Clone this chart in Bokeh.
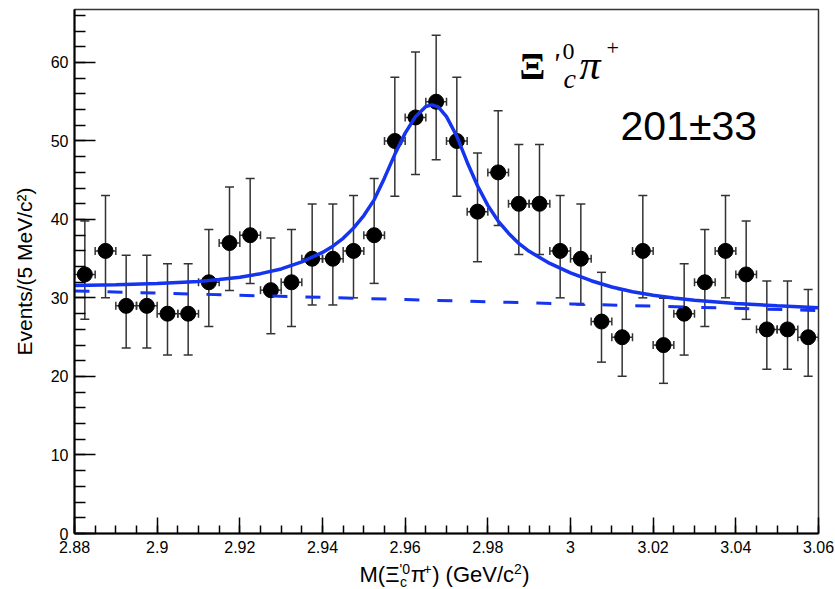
from bokeh.plotting import figure
from bokeh.models import (ColumnDataSource, Whisker, TeeHead, Label, FixedTicker,
                          NumeralTickFormatter, Range1d)
from bokeh.layouts import column
from bokeh.embed import file_html
from bokeh.resources import INLINE

# ---------------- data ----------------
bin_centers = [2.8825, 2.8875, 2.8925, 2.8975, 2.9025, 2.9075, 2.9125, 2.9175, 2.9225,
               2.9275, 2.9325, 2.9375, 2.9425, 2.9475, 2.9525, 2.9575, 2.9625, 2.9675,
               2.9725, 2.9775, 2.9825, 2.9875, 2.9925, 2.9975, 3.0025, 3.0075, 3.0125,
               3.0175, 3.0225, 3.0275, 3.0325, 3.0375, 3.0425, 3.0475, 3.0525, 3.0575]
counts = [33, 36, 29, 29, 28, 28, 32, 37, 38,
          31, 32, 35, 35, 36, 38, 50, 53, 55,
          50, 41, 46, 42, 42, 36, 35, 27, 25,
          36, 24, 28, 32, 36, 33, 26, 26, 25]
err_lo = [5.72, 5.98, 5.36, 5.36, 5.27, 5.27, 5.63, 6.06, 6.14,
          5.55, 5.63, 5.89, 5.89, 5.98, 6.14, 7.05, 7.26, 7.40,
          7.05, 6.38, 6.76, 6.46, 6.46, 5.98, 5.89, 5.17, 4.97,
          5.98, 4.87, 5.27, 5.63, 5.98, 5.72, 5.07, 5.07, 4.97]
err_hi = [6.81, 7.06, 6.45, 6.45, 6.36, 6.36, 6.72, 7.15, 7.23,
          6.63, 6.72, 6.98, 6.98, 7.06, 7.23, 8.12, 8.33, 8.47,
          8.12, 7.46, 7.84, 7.54, 7.54, 7.06, 6.98, 6.27, 6.07,
          7.06, 5.97, 6.36, 6.72, 7.06, 6.81, 6.17, 6.17, 6.07]
bin_half_width = 0.0025

fit_x = [2.880, 2.890, 2.900, 2.910, 2.915, 2.920, 2.925, 2.930, 2.935, 2.940,
         2.9425, 2.945, 2.9475, 2.950, 2.9525, 2.955, 2.9575, 2.960, 2.9625, 2.965,
         2.9665, 2.968, 2.970, 2.9725, 2.975, 2.9775, 2.980, 2.9825, 2.985, 2.9875,
         2.990, 2.995, 3.000, 3.005, 3.010, 3.015, 3.020, 3.025, 3.030, 3.040,
         3.050, 3.060]
fit_y = [31.6, 31.7, 31.85, 32.1, 32.35, 32.65, 33.1, 33.7, 34.6, 35.8,
         36.6, 37.6, 38.9, 40.5, 42.5, 45.3, 48.3, 51.0, 53.1, 54.4,
         54.6, 54.35, 53.1, 50.6, 47.3, 44.3, 41.8, 39.8, 38.25, 36.95,
         35.95, 34.4, 33.2, 32.2, 31.4, 30.8, 30.35, 30.0, 29.7, 29.3,
         29.0, 28.75]

bg_x = [2.88, 2.92, 2.96, 3.00, 3.06]
bg_y = [30.9, 30.35, 29.8, 29.25, 28.4]

x_ticks = [2.88, 2.90, 2.92, 2.94, 2.96, 2.98, 3.00, 3.02, 3.04, 3.06]
x_minor = [2.88 + 0.005 * i for i in range(37)]
y_ticks = [0, 10, 20, 30, 40, 50, 60]
y_minor = [2 * i for i in range(34)]

yield_text = "201±33"
y_title = "Events/(5 MeV/c²)"

# ---------------- main figure ----------------
W, H_MAIN, H_TITLE = 835, 560, 29
FL, FB = 74, 533  # frame left / bottom in page pixels

p = figure(width=W, height=H_MAIN, x_range=Range1d(2.88, 3.06), y_range=Range1d(0, 66.75),
           output_backend="svg", toolbar_location=None,
           min_border_left=74, min_border_right=17, min_border_top=9,
           min_border_bottom=H_MAIN - FB)
p.background_fill_color = "white"
p.border_fill_color = "white"
p.outline_line_color = "#333333"
p.outline_line_width = 1.5
p.grid.visible = False

for ax in (p.xaxis[0], p.yaxis[0]):
    ax.axis_line_color = "black"
    ax.axis_line_width = 2
    ax.major_tick_line_color = "black"
    ax.minor_tick_line_color = "black"
    ax.major_tick_line_width = 1.5
    ax.minor_tick_line_width = 1.5
    ax.major_tick_out = 0
    ax.minor_tick_out = 0
    ax.major_label_text_font = "Liberation Sans"
    ax.major_label_text_font_size = "16px"
    ax.major_label_text_color = "black"

p.xaxis.ticker = FixedTicker(ticks=x_ticks, minor_ticks=x_minor)
p.xaxis.formatter = NumeralTickFormatter(format="0.[00]")
p.xaxis.major_tick_in = 16
p.xaxis.minor_tick_in = 8
p.xaxis.major_label_standoff = 7

p.yaxis.ticker = FixedTicker(ticks=y_ticks, minor_ticks=y_minor)
p.yaxis.major_tick_in = 21
p.yaxis.minor_tick_in = 11
p.yaxis.major_label_standoff = 6
p.yaxis.axis_label = y_title
p.yaxis.axis_label_text_font = "Liberation Sans"
p.yaxis.axis_label_text_font_size = "21px"
p.yaxis.axis_label_text_font_style = "normal"
p.yaxis.axis_label_text_color = "black"
p.yaxis.axis_label_standoff = 12

# ---------------- data points with error bars ----------------
src = ColumnDataSource(dict(
    x=bin_centers, y=counts,
    upper=[c + h for c, h in zip(counts, err_hi)],
    lower=[c - l for c, l in zip(counts, err_lo)],
    xl=[x - bin_half_width for x in bin_centers],
    xr=[x + bin_half_width for x in bin_centers],
))
ecol = "#333333"
p.add_layout(Whisker(base="x", upper="upper", lower="lower", source=src, dimension="height",
                     line_color=ecol, line_width=1.5,
                     upper_head=TeeHead(size=9, line_color=ecol, line_width=1.5),
                     lower_head=TeeHead(size=9, line_color=ecol, line_width=1.5)))
p.add_layout(Whisker(base="y", upper="xr", lower="xl", source=src, dimension="width",
                     line_color=ecol, line_width=1.5,
                     upper_head=TeeHead(size=8, line_color=ecol, line_width=1.5),
                     lower_head=TeeHead(size=8, line_color=ecol, line_width=1.5)))
p.scatter("x", "y", source=src, size=15, fill_color="black", line_color="black")

blue = "#1434f0"
p.line(bg_x, bg_y, line_color=blue, line_width=3, line_dash="15 18")
p.line(fit_x, fit_y, line_color=blue, line_width=3.5)


# ---------------- texts ----------------
def add_text(fig, txt, px, py, size, top, font="Liberation Sans", style="normal"):
    """px, py: left edge and baseline in page pixels; top: page y of the frame bottom."""
    center = py - 0.35 * size
    fig.add_layout(Label(x=px - FL, y=top - center,
                         x_units="screen", y_units="screen", text=txt,
                         text_font=font, text_font_size=f"{size}px", text_font_style=style,
                         text_color="black", text_baseline="middle", text_align="left"))


serif = "Liberation Serif"
add_text(p, "Ξ", 519, 79, 38, FB, serif, "bold")
add_text(p, "'", 552, 72, 30, FB, serif, "italic")
add_text(p, "0", 562, 59, 24, FB, serif)
add_text(p, "c", 563, 88, 28, FB, serif, "italic")
add_text(p, "π", 579, 79, 42, FB, serif, "italic")
add_text(p, "+", 606, 55, 22, FB, serif)

add_text(p, yield_text, 620, 140, 41, FB)

# ---------------- x-axis title strip (frame aligned with the main plot) ----------------
p2 = figure(width=W, height=H_TITLE, x_range=Range1d(0, W), y_range=Range1d(0, H_TITLE),
            output_backend="svg", toolbar_location=None,
            x_axis_location=None, y_axis_location=None,
            min_border_left=0, min_border_right=0, min_border_top=0, min_border_bottom=0)
p2.grid.visible = False
p2.outline_line_color = None
p2.background_fill_color = "white"
p2.border_fill_color = "white"

T = H_MAIN + H_TITLE  # page y of p2's bottom edge
fs, fss = 22, 14
base_y = 582
x0 = 359
add_text(p2, "M(Ξ", x0, base_y, fs, T)
x1 = x0 + 1.82 * fs
add_text(p2, "'0", x1, base_y - 9, fss, T)
add_text(p2, "c", x1 + 0.5, base_y + 4, fss, T)
x2 = x1 + 0.8 * fss
add_text(p2, "π", x2, base_y, fs, T)
x3 = x2 + 0.58 * fs
add_text(p2, "+", x3, base_y - 9, fss, T)
x4 = x3 + 0.62 * fss
add_text(p2, ") (GeV/c", x4, base_y, fs, T)
x5 = x4 + 3.72 * fs
add_text(p2, "2", x5, base_y - 9, fss, T)
x6 = x5 + 0.58 * fss
add_text(p2, ")", x6, base_y, fs, T)

layout = column(p, p2, spacing=0)
open("out.html", "w").write(file_html(layout, INLINE))
